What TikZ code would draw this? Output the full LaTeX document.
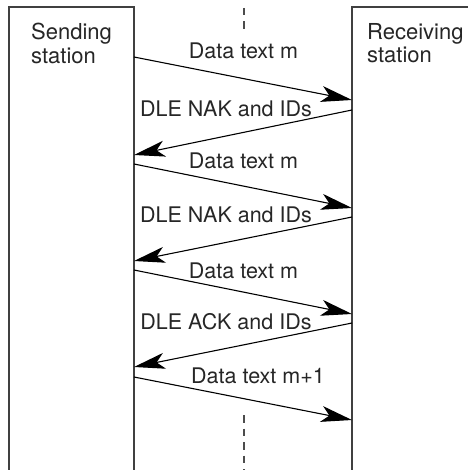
\documentclass[tikz,border=0pt]{standalone}
\usepackage{fontspec}
\setmainfont{TeX Gyre Heros}
\usetikzlibrary{arrows.meta}
\tikzset{
  station/.style={line width=1.2pt,black!75},
  msg/.style={line width=1.1pt,black,-{Stealth[length=31pt,width=16pt,inset=8pt]}},
  mid/.style={line width=1.2pt,black!70,dash pattern=on 7.5pt off 6pt},
  lbl/.style={font=\fontsize{21.5}{23.5}\selectfont,text=black!85,inner sep=0pt,anchor=base},
  stnlbl/.style={lbl,font=\fontsize{22}{23.5}\selectfont,anchor=north west,align=left},
}
\begin{document}
\begin{tikzpicture}[x=1pt,y=-1pt]
    \useasboundingbox (0,0) rectangle (468,470);
    % the two stations, open at the bottom (and the receiver on the right)
    \draw[station] (9,470) -- (9,7) -- (134,7) -- (134,470);
    \draw[station] (352,470) -- (352,7) -- (468,7);
    \node[stnlbl] (snd) at (31,23) {Sending\\station};
    \node[stnlbl] (rcv) at (367,23) {Receiving\\station};
    % middle line, only the two ends are shown
    \draw[mid] (244,8) -- (244,30);
    \draw[mid] (244,415) -- (244,470);
    % ends of the messages on the sender side
    \coordinate (s1) at (134,57);
    \coordinate (s2) at (134,155);
    \coordinate (s3) at (134,164);
    \coordinate (s4) at (134,261);
    \coordinate (s5) at (134,270);
    \coordinate (s6) at (134,367);
    \coordinate (s7) at (134,377);
    % ends of the messages on the receiver side
    \coordinate (r1) at (352,100);
    \coordinate (r2) at (352,110);
    \coordinate (r3) at (352,208);
    \coordinate (r4) at (352,217);
    \coordinate (r5) at (352,314);
    \coordinate (r6) at (352,323);
    \coordinate (r7) at (352,420);
    \draw[msg] (s1) -- (r1);
    \draw[msg] (r2) -- (s2);
    \draw[msg] (s3) -- (r3);
    \draw[msg] (r4) -- (s4);
    \draw[msg] (s5) -- (r5);
    \draw[msg] (r6) -- (s6);
    \draw[msg] (s7) -- (r7);
    \node[lbl] (m1) at (243.5,59) {Data text m};
    \node[lbl] (n1) at (226,117) {DLE NAK and IDs};
    \node[lbl] (m2) at (243.5,169) {Data text m};
    \node[lbl] (n2) at (226,222) {DLE NAK and IDs};
    \node[lbl] (m3) at (243.5,278) {Data text m};
    \node[lbl] (a1) at (226,329) {DLE ACK and IDs};
    \node[lbl] (m4) at (258,383) {Data text m+1};
\end{tikzpicture}
\end{document}
